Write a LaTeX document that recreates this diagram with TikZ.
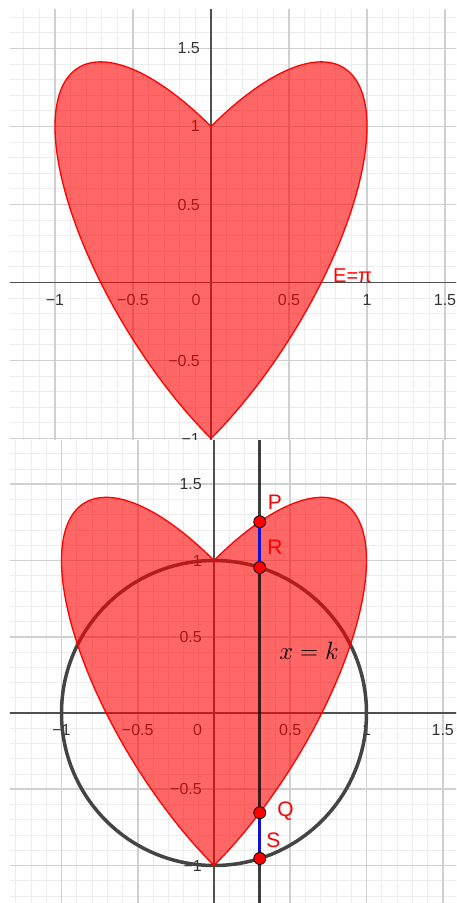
\RequirePackage{fix-cm}
\documentclass[tikz,border=0pt]{standalone}
\usepackage{fontspec}
\setmainfont{Liberation Sans}
\usetikzlibrary{positioning}

\definecolor{gridminor}{HTML}{EDEDED}
\definecolor{gridmajor}{HTML}{D0D0D0}
\definecolor{axisgray}{HTML}{505050}
\definecolor{labelgray}{HTML}{333333}
\definecolor{curvegray}{HTML}{444444}
\definecolor{chordblue}{HTML}{1010D0}

\begin{document}
\begin{tikzpicture}[
    x=1pt, y=1pt,
    minorline/.style={draw=gridminor, line width=0.9pt},
    majorline/.style={draw=gridmajor, line width=1.6pt},
    axisline/.style={draw=axisgray, line width=1.4pt},
    ticklabel/.style={inner sep=0pt, text=labelgray, font=\fontsize{16}{18}\selectfont},
    heart/.style={draw=red, line width=1.3pt, fill=red, fill opacity=0.6},
    unitcircle/.style={draw=curvegray, line width=3.5pt},
    kline/.style={draw=black, draw opacity=0.75, line width=3pt},
    chord/.style={draw=chordblue, line width=3.2pt},
    pointnode/.style={circle, draw=black, line width=0.8pt, fill=red, minimum size=12pt, inner sep=0pt},
    ptlabel/.style={inner sep=0pt, text=red, font=\fontsize{21}{23}\selectfont}
  ]
  \useasboundingbox (0,0) rectangle (456,903);

  % upper panel: the heart alone
  \begin{scope}[shift={(211pt,620.5pt)}, x=156pt, y=156pt]
    \clip (-1.2885,-1.0096) rectangle (1.5705,1.7468);
    \foreach \i in {-13,...,15} \draw[minorline] (\i/10,-1.1) -- (\i/10,1.8);
    \foreach \j in {-11,...,18} \draw[minorline] (-1.3,\j/10) -- (1.6,\j/10);
    \foreach \i in {-2,...,3} \draw[majorline] (\i/2,-1.1) -- (\i/2,1.8);
    \foreach \j in {-2,...,3} \draw[majorline] (-1.3,\j/2) -- (1.6,\j/2);
    \draw[axisline] (-1.3,0) -- (1.6,0);
    \draw[axisline] (0,-1.1) -- (0,1.8);
    \foreach \v/\t [count=\n] in {-1/−1,-0.5/−0.5,0.5/0.5,1/1,1.5/1.5}
      \node[ticklabel] (xa\n) at (\v,-0.112) {\t};
    \foreach \v/\t [count=\n] in {-1/−1,-0.5/−0.5,0.5/0.5,1/1,1.5/1.5}
      \node[ticklabel, anchor=east] (ya\n) at (-0.07,\v) {\t};
    \node[ticklabel] (oa) at (-0.096,-0.112) {0};
    \draw[heart] plot[domain=0:360, samples=361] ({cos(\x)}, {sin(\x)+abs(cos(\x))}) -- cycle;
    \node[ptlabel, font=\fontsize{20}{22}\selectfont, anchor=base west] (area) at (0.782,0.003) {E=π};
  \end{scope}

  % lower panel: heart, unit circle and the line x = k
  \begin{scope}[shift={(214pt,190pt)}, x=152.5pt, y=152.5pt]
    \clip (-1.3377,-1.2459) rectangle (1.5869,1.7836);
    \foreach \i in {-13,...,15} \draw[minorline] (\i/10,-1.3) -- (\i/10,1.8);
    \foreach \j in {-12,...,17} \draw[minorline] (-1.4,\j/10) -- (1.6,\j/10);
    \foreach \i in {-2,...,3} \draw[majorline] (\i/2,-1.3) -- (\i/2,1.8);
    \foreach \j in {-2,...,3} \draw[majorline] (-1.4,\j/2) -- (1.6,\j/2);
    \draw[axisline] (-1.4,0) -- (1.6,0);
    \draw[axisline] (0,-1.3) -- (0,1.8);
    \foreach \v/\t [count=\n] in {-1/−1,-0.5/−0.5,0.5/0.5,1/1,1.5/1.5}
      \node[ticklabel] (xb\n) at (\v,-0.111) {\t};
    \foreach \v/\t [count=\n] in {-1/−1,-0.5/−0.5,0.5/0.5,1/1,1.5/1.5}
      \node[ticklabel, anchor=east] (yb\n) at (-0.079,\v) {\t};
    \node[ticklabel] (ob) at (-0.108,-0.111) {0};
    \draw[unitcircle] (0,0) circle[radius=1];
    \draw[heart] plot[domain=0:360, samples=361] ({cos(\x)}, {sin(\x)+abs(cos(\x))}) -- cycle;
    \coordinate (ktop) at (0.3,1.8);
    \coordinate (kbot) at (0.3,-1.3);
    \draw[kline] (ktop) -- (kbot);
    \node[pointnode] (P) at (0.3,{0.3+sqrt(0.91)}) {};
    \node[pointnode] (R) at (0.3,{sqrt(0.91)}) {};
    \node[pointnode] (Q) at (0.3,{0.3-sqrt(0.91)}) {};
    \node[pointnode] (S) at (0.3,{-sqrt(0.91)}) {};
    \draw[chord] (P) -- (R);
    \draw[chord] (Q) -- (S);
    \node[ptlabel, above right=7.5pt and 3.5pt of P] (Plabel) {P};
    \node[ptlabel, above right=8.5pt and 3pt of R] (Rlabel) {R};
    \node[ptlabel, right=11pt of Q, yshift=1.5pt] (Qlabel) {Q};
    \node[ptlabel, above right=6.5pt and 2pt of S] (Slabel) {S};
    \node[anchor=base, font=\fontsize{25}{27}\selectfont] (keq) at (0.623,0.354) {$x = k$};
  \end{scope}
\end{tikzpicture}
\end{document}
